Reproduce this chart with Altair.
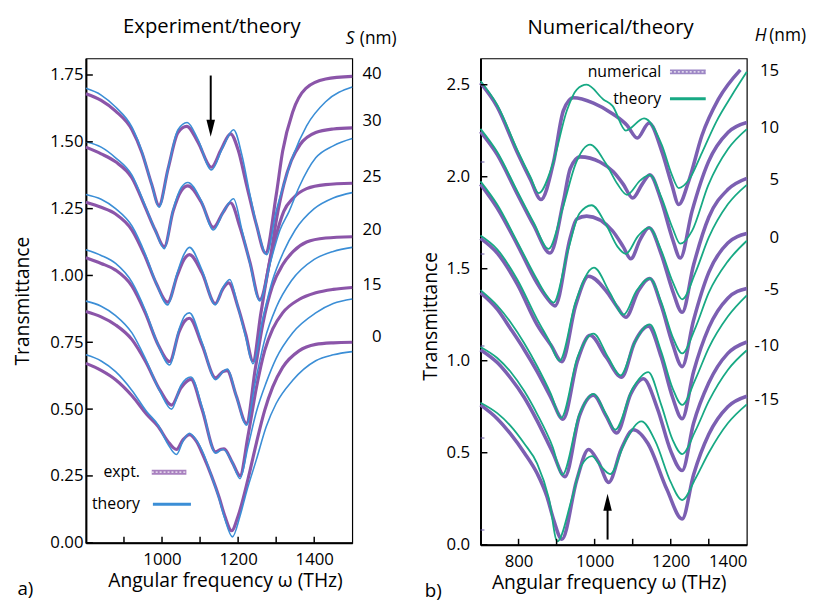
import altair as alt
import pandas as pd

FONT = "Open Sans"
EXPT = "#8b55a9"
THEO_A = "#3b8ed6"
NUM = "#7c5fb2"
THEO_B = "#17a984"

# ---------------- panel a) : experiment / theory ----------------
L40_ex_x = [800, 840, 878, 921, 947, 973, 992, 1016, 1042, 1065, 1094, 1130, 1155, 1180, 1200, 1222, 1248, 1272, 1300, 1317, 1343, 1378, 1430, 1500]
L40_ex_y = [1.68, 1.655, 1.615, 1.545, 1.46, 1.34, 1.262, 1.40, 1.535, 1.558, 1.50, 1.405, 1.47, 1.53, 1.47, 1.34, 1.19, 1.084, 1.30, 1.465, 1.61, 1.70, 1.735, 1.745]
L40_th_x = [800, 840, 878, 921, 947, 973, 992, 1016, 1042, 1066, 1094, 1130, 1160, 1188, 1210, 1230, 1252, 1275, 1300, 1320, 1345, 1380, 1430, 1500]
L40_th_y = [1.70, 1.675, 1.63, 1.555, 1.465, 1.34, 1.255, 1.40, 1.545, 1.572, 1.51, 1.395, 1.48, 1.545, 1.45, 1.31, 1.17, 1.078, 1.24, 1.34, 1.45, 1.56, 1.65, 1.705]

L30_ex_x = [800, 840, 878, 921, 956, 982, 1006, 1029, 1051, 1068, 1103, 1135, 1160, 1180, 1205, 1231, 1257, 1285, 1302, 1320, 1340, 1363, 1404, 1450, 1500]
L30_ex_y = [1.48, 1.455, 1.425, 1.365, 1.255, 1.17, 1.108, 1.24, 1.318, 1.335, 1.275, 1.18, 1.235, 1.272, 1.18, 1.05, 0.91, 1.07, 1.22, 1.34, 1.43, 1.49, 1.535, 1.548, 1.552]
L30_th_x = [800, 840, 878, 921, 956, 982, 1006, 1029, 1051, 1068, 1103, 1135, 1162, 1188, 1210, 1231, 1257, 1285, 1310, 1334, 1360, 1404, 1450, 1500]
L30_th_y = [1.50, 1.48, 1.44, 1.375, 1.26, 1.17, 1.10, 1.245, 1.33, 1.348, 1.28, 1.17, 1.24, 1.287, 1.17, 1.045, 0.905, 1.05, 1.17, 1.24, 1.33, 1.44, 1.485, 1.512]

L25_ex_x = [800, 840, 878, 921, 956, 985, 1015, 1040, 1058, 1072, 1105, 1140, 1160, 1175, 1200, 1220, 1239, 1260, 1280, 1300, 1320, 1345, 1380, 1430, 1500]
L25_ex_y = [1.274, 1.255, 1.23, 1.17, 1.07, 0.97, 0.90, 1.00, 1.06, 1.078, 1.01, 0.895, 0.95, 0.972, 0.88, 0.78, 0.68, 0.86, 1.03, 1.15, 1.24, 1.29, 1.325, 1.34, 1.345]
L25_th_x = [800, 840, 878, 921, 956, 985, 1015, 1040, 1058, 1072, 1105, 1140, 1160, 1178, 1200, 1220, 1239, 1265, 1290, 1320, 1350, 1400, 1450, 1500]
L25_th_y = [1.303, 1.285, 1.25, 1.185, 1.08, 0.97, 0.89, 1.01, 1.08, 1.105, 1.02, 0.89, 0.955, 0.985, 0.88, 0.77, 0.67, 0.84, 0.98, 1.09, 1.17, 1.25, 1.29, 1.31]

L20_ex_x = [800, 840, 878, 921, 956, 990, 1020, 1045, 1060, 1072, 1105, 1141, 1160, 1171, 1195, 1222, 1245, 1265, 1290, 1317, 1345, 1380, 1430, 1500]
L20_ex_y = [1.066, 1.045, 1.02, 0.96, 0.86, 0.74, 0.678, 0.79, 0.83, 0.84, 0.74, 0.617, 0.64, 0.644, 0.55, 0.447, 0.65, 0.82, 0.96, 1.04, 1.09, 1.125, 1.14, 1.145]
L20_th_x = [800, 840, 878, 921, 956, 990, 1020, 1045, 1060, 1072, 1105, 1141, 1160, 1172, 1195, 1222, 1245, 1270, 1300, 1340, 1400, 1450, 1500]
L20_th_y = [1.096, 1.075, 1.045, 0.975, 0.87, 0.74, 0.665, 0.80, 0.85, 0.86, 0.75, 0.61, 0.64, 0.65, 0.55, 0.44, 0.60, 0.76, 0.88, 0.98, 1.06, 1.09, 1.105]

L15_ex_x = [800, 840, 878, 921, 956, 995, 1025, 1050, 1076, 1105, 1141, 1155, 1163, 1185, 1205, 1226, 1248, 1270, 1291, 1317, 1360, 1404, 1450, 1500]
L15_ex_y = [0.865, 0.845, 0.815, 0.76, 0.68, 0.57, 0.515, 0.58, 0.611, 0.50, 0.34, 0.35, 0.351, 0.30, 0.251, 0.40, 0.58, 0.72, 0.80, 0.86, 0.91, 0.935, 0.948, 0.955]
L15_th_x = [800, 840, 878, 921, 956, 995, 1025, 1050, 1076, 1105, 1141, 1160, 1185, 1205, 1226, 1248, 1274, 1300, 1343, 1404, 1450, 1500]
L15_th_y = [0.904, 0.885, 0.85, 0.785, 0.69, 0.565, 0.50, 0.59, 0.62, 0.51, 0.335, 0.35, 0.30, 0.24, 0.36, 0.49, 0.60, 0.69, 0.785, 0.86, 0.895, 0.912]

L0_ex_x = [800, 840, 878, 921, 960, 990, 1015, 1038, 1055, 1072, 1090, 1110, 1130, 1150, 1165, 1183, 1200, 1226, 1248, 1270, 1291, 1317, 1360, 1404, 1450, 1500]
L0_ex_y = [0.671, 0.645, 0.61, 0.55, 0.48, 0.435, 0.38, 0.349, 0.385, 0.404, 0.38, 0.32, 0.25, 0.17, 0.10, 0.045, 0.10, 0.238, 0.373, 0.496, 0.583, 0.656, 0.718, 0.742, 0.748, 0.75]
L0_th_x = [800, 840, 878, 921, 960, 990, 1015, 1038, 1055, 1072, 1090, 1110, 1130, 1150, 1165, 1185, 1205, 1222, 1248, 1274, 1300, 1343, 1404, 1450, 1500]
L0_th_y = [0.703, 0.68, 0.64, 0.57, 0.49, 0.44, 0.37, 0.33, 0.38, 0.41, 0.385, 0.33, 0.25, 0.165, 0.09, 0.022, 0.10, 0.19, 0.311, 0.435, 0.521, 0.607, 0.681, 0.703, 0.715]

S_labels = ["40", "30", "25", "20", "15", "0"]
S_label_T = [1.754, 1.576, 1.367, 1.170, 0.963, 0.771]

# ---------------- panel b) : numerical / theory ----------------
R15_nu_x = [700, 744, 797, 831, 859, 892, 918, 944, 997, 1049, 1085, 1112, 1143, 1177, 1203, 1221, 1247, 1282, 1325, 1383]
R15_nu_y = [2.51, 2.38, 2.13, 1.985, 1.876, 2.08, 2.36, 2.429, 2.40, 2.34, 2.28, 2.21, 2.292, 2.135, 1.956, 1.849, 1.974, 2.224, 2.42, 2.581]
R15_th_x = [700, 744, 797, 831, 853, 890, 927, 953, 979, 1023, 1047, 1082, 1130, 1177, 1203, 1221, 1250, 1282, 1320, 1360, 1400]
R15_th_y = [2.52, 2.39, 2.145, 2.0, 1.911, 2.07, 2.36, 2.474, 2.50, 2.42, 2.385, 2.251, 2.317, 2.17, 2.01, 1.938, 1.99, 2.13, 2.30, 2.44, 2.57]

R10_nu_x = [700, 744, 797, 840, 883, 918, 936, 962, 1014, 1049, 1075, 1100, 1125, 1145, 1175, 1205, 1225, 1256, 1299, 1351, 1400]
R10_nu_y = [2.245, 2.12, 1.905, 1.735, 1.585, 1.867, 2.045, 2.108, 2.08, 2.027, 1.96, 1.884, 1.96, 2.01, 1.87, 1.66, 1.558, 1.813, 2.081, 2.242, 2.295]
R10_th_x = [700, 744, 797, 840, 879, 915, 950, 988, 1030, 1060, 1085, 1120, 1145, 1175, 1205, 1225, 1256, 1299, 1351, 1400]
R10_th_y = [2.26, 2.134, 1.92, 1.75, 1.608, 1.82, 2.07, 2.174, 2.07, 1.96, 1.902, 1.98, 2.01, 1.89, 1.72, 1.636, 1.706, 1.956, 2.152, 2.259]

R5_nu_x = [700, 744, 797, 849, 875, 896, 936, 953, 979, 1047, 1075, 1095, 1120, 1143, 1175, 1205, 1230, 1260, 1300, 1350, 1400]
R5_nu_y = [1.96, 1.83, 1.63, 1.42, 1.34, 1.298, 1.67, 1.77, 1.786, 1.706, 1.62, 1.554, 1.66, 1.723, 1.58, 1.38, 1.263, 1.52, 1.78, 1.93, 1.991]
R5_th_x = [700, 744, 797, 849, 872, 892, 930, 960, 992, 1030, 1060, 1082, 1115, 1143, 1175, 1205, 1230, 1265, 1300, 1350, 1400]
R5_th_y = [1.975, 1.849, 1.645, 1.44, 1.36, 1.316, 1.60, 1.80, 1.845, 1.74, 1.62, 1.581, 1.68, 1.723, 1.60, 1.43, 1.334, 1.48, 1.67, 1.85, 1.956]

R0_nu_x = [700, 744, 797, 849, 885, 914, 950, 984, 1030, 1060, 1082, 1115, 1145, 1175, 1205, 1230, 1260, 1300, 1350, 1400]
R0_nu_y = [1.665, 1.585, 1.415, 1.195, 1.085, 0.995, 1.30, 1.459, 1.38, 1.29, 1.236, 1.38, 1.447, 1.30, 1.09, 0.968, 1.22, 1.48, 1.64, 1.691]
R0_th_x = [700, 744, 797, 849, 880, 908, 950, 998, 1040, 1076, 1110, 1145, 1175, 1205, 1230, 1265, 1300, 1350, 1400]
R0_th_y = [1.68, 1.605, 1.44, 1.225, 1.11, 1.00, 1.32, 1.506, 1.37, 1.25, 1.38, 1.447, 1.32, 1.13, 1.04, 1.18, 1.37, 1.54, 1.652]

Rm5_nu_x = [700, 744, 779, 815, 849, 885, 917, 955, 988, 1030, 1071, 1105, 1141, 1175, 1205, 1230, 1260, 1300, 1350, 1400]
Rm5_nu_y = [1.37, 1.28, 1.174, 1.06, 0.941, 0.80, 0.682, 1.00, 1.138, 1.02, 0.911, 1.10, 1.188, 1.02, 0.80, 0.685, 0.94, 1.18, 1.34, 1.393]
Rm5_th_x = [700, 744, 779, 815, 849, 885, 912, 955, 997, 1035, 1068, 1105, 1145, 1175, 1205, 1230, 1265, 1300, 1350, 1400]
Rm5_th_y = [1.384, 1.30, 1.209, 1.095, 0.97, 0.82, 0.69, 1.02, 1.147, 1.02, 0.92, 1.10, 1.197, 1.05, 0.85, 0.76, 0.90, 1.07, 1.24, 1.355]

Rm10_nu_x = [700, 744, 779, 815, 849, 890, 922, 960, 997, 1030, 1058, 1095, 1128, 1165, 1200, 1230, 1260, 1300, 1350, 1400]
Rm10_nu_y = [1.06, 0.99, 0.906, 0.80, 0.673, 0.50, 0.37, 0.70, 0.813, 0.70, 0.607, 0.82, 0.902, 0.74, 0.51, 0.403, 0.66, 0.88, 1.04, 1.102]
Rm10_th_x = [700, 744, 779, 815, 849, 890, 915, 960, 997, 1030, 1054, 1100, 1141, 1175, 1205, 1230, 1265, 1300, 1350, 1400]
Rm10_th_y = [1.075, 1.015, 0.94, 0.835, 0.71, 0.53, 0.38, 0.71, 0.82, 0.71, 0.625, 0.85, 0.938, 0.76, 0.57, 0.493, 0.62, 0.78, 0.95, 1.057]

Rm15_nu_x = [700, 744, 779, 815, 849, 875, 892, 914, 953, 984, 1010, 1037, 1070, 1102, 1140, 1190, 1230, 1260, 1300, 1350, 1400]
Rm15_nu_y = [0.76, 0.685, 0.602, 0.50, 0.387, 0.26, 0.137, 0.03, 0.352, 0.518, 0.45, 0.339, 0.52, 0.625, 0.55, 0.30, 0.14, 0.38, 0.60, 0.75, 0.807]
Rm15_th_x = [700, 744, 779, 815, 849, 880, 902, 940, 965, 993, 1015, 1041, 1080, 1123, 1160, 1200, 1230, 1265, 1300, 1350, 1400]
Rm15_th_y = [0.772, 0.715, 0.646, 0.55, 0.441, 0.25, 0.018, 0.25, 0.43, 0.482, 0.43, 0.384, 0.56, 0.67, 0.56, 0.34, 0.243, 0.36, 0.50, 0.66, 0.763]

H_labels = ["15", "10", "5", "0", "-5", "-10", "-15"]
H_label_T = [2.572, 2.263, 1.984, 1.668, 1.384, 1.080, 0.785]

# axis tick values
A_xlabels = [1000, 1200, 1400]
A_xticks = [900, 1000, 1100, 1200, 1300, 1400]
A_yticks = [0, 0.25, 0.5, 0.75, 1.0, 1.25, 1.5, 1.75]
B_xlabels = [800, 1000, 1200, 1400]
B_xticks = [800, 900, 1000, 1100, 1200, 1300]
B_yticks = [0, 0.5, 1.0, 1.5, 2.0, 2.5]
B_yminor = [0.08, 0.58, 1.08, 1.58, 2.08]


def curves(pairs):
    rows = []
    for name, xs, ys in pairs:
        for x, y in zip(xs, ys):
            rows.append({"w": x, "T": y, "curve": name})
    return pd.DataFrame(rows)


A_ex = curves([("40", L40_ex_x, L40_ex_y), ("30", L30_ex_x, L30_ex_y), ("25", L25_ex_x, L25_ex_y),
               ("20", L20_ex_x, L20_ex_y), ("15", L15_ex_x, L15_ex_y), ("0", L0_ex_x, L0_ex_y)])
A_th = curves([("40", L40_th_x, L40_th_y), ("30", L30_th_x, L30_th_y), ("25", L25_th_x, L25_th_y),
               ("20", L20_th_x, L20_th_y), ("15", L15_th_x, L15_th_y), ("0", L0_th_x, L0_th_y)])
B_nu = curves([("15", R15_nu_x, R15_nu_y), ("10", R10_nu_x, R10_nu_y), ("5", R5_nu_x, R5_nu_y),
               ("0", R0_nu_x, R0_nu_y), ("-5", Rm5_nu_x, Rm5_nu_y), ("-10", Rm10_nu_x, Rm10_nu_y),
               ("-15", Rm15_nu_x, Rm15_nu_y)])
B_th = curves([("15", R15_th_x, R15_th_y), ("10", R10_th_x, R10_th_y), ("5", R5_th_x, R5_th_y),
               ("0", R0_th_x, R0_th_y), ("-5", Rm5_th_x, Rm5_th_y), ("-10", Rm10_th_x, Rm10_th_y),
               ("-15", Rm15_th_x, Rm15_th_y)])

WA, HA = 270, 491
WB, HB = 270, 493
ARROW = "M-0.5,-1L0.5,-1L0,1Z"
ARROW_UP = "M-0.5,1L0.5,1L0,-1Z"


def text_layer(xe, ye, w, t, label, size, align="center", style="normal"):
    return (alt.Chart(pd.DataFrame({"w": [w], "T": [t], "label": [label]}))
            .mark_text(align=align, baseline="middle", fontSize=size, font=FONT, fontStyle=style, color="black")
            .encode(x=xe, y=ye, text="label:N"))


def panel(ex_df, th_df, ex_color, ex_width, th_color, th_width, xdom, ydom, xlabels, xticks, yticks, yfmt,
          W, H, ypad, title_x, title_y, ylabel_pad,
          side_w, side_labels, side_T, unit_letter, unit_w, unit_w2, unit_T,
          leg_rows, arrow, tag, tag_w, tag_T, title, title_w, title_T, minor=None):
    xe = alt.X("w:Q", scale=alt.Scale(domain=xdom, nice=False, zero=False),
               axis=alt.Axis(values=xlabels, format="d", title="Angular frequency ω (THz)",
                             labelPadding=9, titleX=title_x, titleY=44, titleBaseline="alphabetic"))
    ye = alt.Y("T:Q", scale=alt.Scale(domain=ydom, nice=False, zero=False),
               axis=alt.Axis(values=yticks, format=yfmt, title="Transmittance", labelPadding=ylabel_pad,
                             titleX=ypad, titleY=title_y, titleBaseline="middle"))
    layers = []
    layers.append(alt.Chart(ex_df).mark_line(color=ex_color, strokeWidth=ex_width, interpolate="monotone")
                  .encode(x=xe, y=ye, detail="curve:N"))
    layers.append(alt.Chart(th_df).mark_line(color=th_color, strokeWidth=th_width, interpolate="monotone")
                  .encode(x=xe, y=ye, detail="curve:N"))
    # inward ticks
    layers.append(alt.Chart(pd.DataFrame({"w": xticks})).mark_rule(color="black", strokeWidth=1.5)
                  .encode(x=xe, y=alt.value(H), y2=alt.value(H - 6)))
    layers.append(alt.Chart(pd.DataFrame({"T": yticks})).mark_rule(color="black", strokeWidth=1.5)
                  .encode(y=ye, x=alt.value(0), x2=alt.value(7)))
    if minor is not None:
        layers.append(alt.Chart(pd.DataFrame({"T": minor})).mark_rule(color="#6a5aa8", strokeWidth=1)
                      .encode(y=ye, x=alt.value(0), x2=alt.value(4)))
    # right-hand labels
    layers.append(alt.Chart(pd.DataFrame({"w": [side_w] * len(side_labels), "T": side_T, "label": side_labels}))
                  .mark_text(align="right", baseline="middle", fontSize=17, font=FONT, color="black")
                  .encode(x=xe, y=ye, text="label:N"))
    layers.append(text_layer(xe, ye, unit_w, unit_T, unit_letter, 17.5, "center", "italic"))
    layers.append(text_layer(xe, ye, unit_w2, unit_T, "(nm)", 17.5, "left"))
    # panel title
    layers.append(text_layer(xe, ye, title_w, title_T, title, 20.5, "center"))
    # legend
    for (label, tw, t, lw1, lw2, kind) in leg_rows:
        layers.append(text_layer(xe, ye, tw, t, label, 16, "right"))
        ldf = pd.DataFrame({"w": [lw1], "w2": [lw2], "T": [t]})
        if kind == "ex":
            layers.append(alt.Chart(ldf).mark_rule(color=ex_color, strokeWidth=5, opacity=0.75)
                          .encode(x=xe, x2="w2:Q", y=ye))
            layers.append(alt.Chart(ldf).mark_rule(color="white", strokeWidth=1.2, strokeDash=[2, 2], opacity=0.9)
                          .encode(x=xe, x2="w2:Q", y=ye))
        else:
            layers.append(alt.Chart(ldf).mark_rule(color=th_color, strokeWidth=3)
                          .encode(x=xe, x2="w2:Q", y=ye))
    # arrow
    aw, at1, at2, ahead, up = arrow
    layers.append(alt.Chart(pd.DataFrame({"w": [aw], "T": [at1], "T2": [at2]})).mark_rule(color="black", strokeWidth=2)
                  .encode(x=xe, y=ye, y2="T2:Q"))
    layers.append(alt.Chart(pd.DataFrame({"w": [aw], "T": [ahead]}))
                  .mark_point(shape=ARROW_UP if up else ARROW, filled=True, size=300, color="black", opacity=1)
                  .encode(x=xe, y=ye))
    # panel tag
    layers.append(text_layer(xe, ye, tag_w, tag_T, tag, 19, "center"))
    return alt.layer(*layers).properties(width=W, height=H)


left = panel(A_ex, A_th, EXPT, 3.2, THEO_A, 1.6, [800, 1500], [0, 1.812], A_xlabels, A_xticks, A_yticks, ".2f",
             WA, HA, -64, 141, HA / 2, 3,
             1577, S_labels, S_label_T, "S", 1494, 1520, 1.886,
             [("expt.", 942, 0.264, 973, 1064, "ex"), ("theory", 942, 0.144, 976, 1076, "th")],
             (1128, 1.748, 1.56, 1.551, False), "a)", 641, -0.175, "Experiment/theory", 1131, 1.93)

right = panel(B_nu, B_th, NUM, 3.6, THEO_B, 1.8, [700, 1400], [0, 2.643], B_xlabels, B_xticks, B_yticks, ".1f",
              WB, HB, -51, 130, 261, 11,
              1485, H_labels, H_label_T, "H", 1436, 1459, 2.762,
              [("numerical", 1175, 2.570, 1198, 1292, "ex"), ("theory", 1175, 2.424, 1198, 1292, "th")],
              (1034, 0.028, 0.22, 0.231, True), "b)", 576, -0.25, "Numerical/theory", 1042, 2.809,
              minor=B_yminor)

chart = alt.hconcat(left, right, spacing=22).properties(
    padding={"left": 4, "top": 4, "right": 0, "bottom": 0}
).configure_view(stroke="black", strokeWidth=1.2).configure_axis(
    labelFont=FONT, titleFont=FONT, labelFontSize=17, titleFontSize=19.5, titleFontWeight="normal",
    labelColor="black", titleColor="black", domainColor="black", domainWidth=2,
    ticks=False, tickSize=0, grid=False
)

chart.save("out.html", embed_options={"renderer": "svg", "actions": False})
